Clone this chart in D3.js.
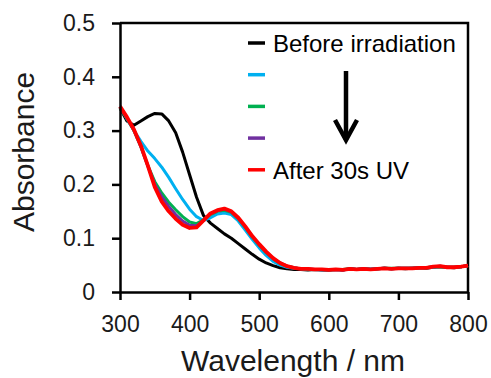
<!DOCTYPE html>
<html>
<head>
<meta charset="utf-8">
<script src="https://cdn.jsdelivr.net/npm/d3@7"></script>
<style>
  body { margin: 0; background: #fff; }
  svg { display: block; font-family: "Liberation Sans", Arial, sans-serif; }
  .axis path, .axis line { stroke: #000; stroke-width: 2.5px; }
  .axis text { font-size: 23px; fill: #1a1a1a; }
  .title { font-size: 30px; fill: #1a1a1a; }
  .legend text { font-size: 24px; fill: #000; }
</style>
</head>
<body>
<svg></svg>
<script>
var wavelengths = [300,310,320,330,340,350,360,370,380,390,400,410,420,430,440,450,460,470,480,490,500,
  510,520,530,540,550,560,570,580,590,600,610,620,630,640,650,660,670,680,690,700,
  710,720,730,740,750,760,770,780,790,800];

var beforeIrr = [0.342,0.318,0.310,0.318,0.326,0.332,0.331,0.318,0.296,0.260,0.218,0.176,0.142,0.128,0.118,0.108,0.100,0.090,0.080,0.070,0.061,
  0.054,0.049,0.045,0.043,0.042,0.042,0.041,0.042,0.041,0.041,0.042,0.041,0.043,0.042,0.043,0.042,0.043,0.044,0.043,0.044,
  0.043,0.044,0.045,0.044,0.046,0.047,0.046,0.045,0.047,0.049];

var step1 = [0.345,0.322,0.300,0.280,0.262,0.248,0.232,0.213,0.192,0.172,0.154,0.140,0.133,0.138,0.145,0.147,0.144,0.132,0.115,0.098,0.082,
  0.068,0.057,0.050,0.046,0.044,0.043,0.042,0.042,0.041,0.042,0.042,0.041,0.043,0.042,0.043,0.043,0.043,0.044,0.043,0.044,
  0.044,0.044,0.045,0.045,0.046,0.048,0.046,0.046,0.047,0.049];

var step2 = [0.342,0.322,0.300,0.270,0.235,0.205,0.184,0.167,0.153,0.140,0.130,0.127,0.134,0.144,0.150,0.152,0.148,0.136,0.120,0.102,0.087,
  0.073,0.062,0.053,0.048,0.045,0.043,0.042,0.042,0.042,0.041,0.042,0.042,0.043,0.042,0.043,0.042,0.043,0.044,0.044,0.044,
  0.044,0.044,0.045,0.045,0.047,0.047,0.046,0.046,0.047,0.049];

var step3 = [0.344,0.323,0.301,0.270,0.234,0.200,0.177,0.159,0.144,0.132,0.124,0.123,0.133,0.145,0.151,0.154,0.149,0.137,0.121,0.103,0.088,
  0.074,0.062,0.054,0.048,0.045,0.043,0.043,0.042,0.042,0.041,0.042,0.041,0.043,0.042,0.043,0.042,0.043,0.044,0.043,0.044,
  0.044,0.044,0.045,0.045,0.047,0.048,0.046,0.046,0.047,0.049];

var afterUV = [0.345,0.325,0.302,0.272,0.235,0.195,0.168,0.150,0.136,0.125,0.119,0.120,0.133,0.146,0.152,0.155,0.150,0.138,0.122,0.104,0.089,
  0.075,0.063,0.054,0.048,0.045,0.043,0.043,0.042,0.042,0.041,0.042,0.041,0.043,0.042,0.043,0.042,0.043,0.044,0.043,0.044,
  0.044,0.044,0.045,0.045,0.047,0.048,0.046,0.046,0.047,0.049];

var xTicks = [300,400,500,600,700,800];
var yTicks = [0,0.1,0.2,0.3,0.4,0.5];
var legendLabels = ["Before irradiation","","","","After 30s UV"];

var series = [
  {values: beforeIrr, color: "#000000", w: 3},
  {values: step1, color: "#00b0f0", w: 3},
  {values: step2, color: "#00b050", w: 3},
  {values: step3, color: "#7030a0", w: 3},
  {values: afterUV, color: "#ff0000", w: 3.8}
];

var width = 491, height = 378;
var padding = {top: 23, left: 120, right: 23, bottom: 86};
var graphWidth = width - padding.left - padding.right;
var graphHeight = height - padding.top - padding.bottom;

var svg = d3.select("svg").attr("width", width).attr("height", height);
var g = svg.append("g").attr("transform", "translate(" + padding.left + "," + padding.top + ")");

var xscale = d3.scaleLinear().domain([300, 800]).range([0, graphWidth]);
var yscale = d3.scaleLinear().domain([0, 0.5]).range([graphHeight, 0]);

// plot box (top + right)
g.append("path")
  .attr("d", "M0,0H" + graphWidth + "V" + graphHeight)
  .attr("fill", "none").attr("stroke", "#000").attr("stroke-width", 2.5);

// curves
var line = d3.line()
  .x(function(d, i){ return xscale(wavelengths[i]); })
  .y(function(d){ return yscale(d); });

series.forEach(function(s){
  g.append("path")
    .datum(s.values)
    .attr("d", line)
    .attr("fill", "none")
    .attr("stroke", s.color)
    .attr("stroke-width", s.w)
    .attr("stroke-linejoin", "round");
});

// axes
var xaxis = d3.axisBottom(xscale).tickValues(xTicks).tickSize(8).tickSizeOuter(0).tickPadding(10).tickFormat(d3.format("d"));
var yaxis = d3.axisLeft(yscale).tickValues(yTicks).tickSize(8).tickSizeOuter(0).tickPadding(17)
  .tickFormat(function(d){ return d === 0 ? "0" : d3.format(".1f")(d); });

g.append("g").attr("class", "x axis")
  .attr("transform", "translate(0," + graphHeight + ")")
  .call(xaxis);
g.append("g").attr("class", "y axis").call(yaxis);
g.selectAll(".axis .domain").attr("stroke-width", 2.5);
g.selectAll(".axis text").attr("font-family", null).attr("font-size", null);
g.selectAll(".x.axis text").attr("dy", "0.95em");

// titles
svg.append("text").attr("class", "title")
  .attr("x", padding.left + graphWidth / 2 - 1)
  .attr("y", 371)
  .attr("text-anchor", "middle")
  .text("Wavelength / nm");

svg.append("text").attr("class", "title")
  .attr("transform", "translate(34,152) rotate(-90)")
  .attr("text-anchor", "middle")
  .text("Absorbance");

// legend
var legend = svg.append("g").attr("class", "legend").attr("transform", "translate(248,43)");
var rowH = 31.7;
series.forEach(function(s, i){
  var row = legend.append("g").attr("transform", "translate(0," + (i * rowH) + ")");
  row.append("line").attr("x1", 0).attr("x2", 17).attr("y1", 0).attr("y2", 0)
    .attr("stroke", s.color).attr("stroke-width", 3.5);
  row.append("text").attr("x", 25).attr("y", 9).text(legendLabels[i]);
});

// arrow
var arrow = svg.append("g").attr("stroke", "#000").attr("stroke-width", 4.5).attr("fill", "none");
arrow.append("line").attr("x1", 346).attr("x2", 346).attr("y1", 71).attr("y2", 140);
arrow.append("path").attr("d", "M335,120L346,140L357,120").attr("stroke-linejoin", "miter");
</script>
</body>
</html>
